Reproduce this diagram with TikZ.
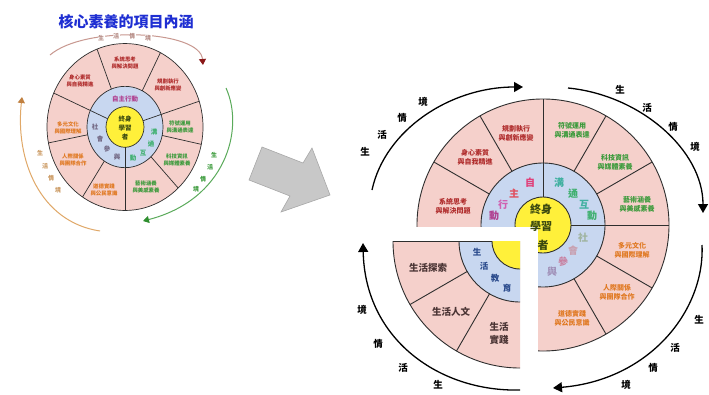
\documentclass[tikz,border=0pt]{standalone}
\usepackage{fontspec}
\newfontfamily\cjk{Noto Sans CJK TC}
\usetikzlibrary{arrows.meta}
\definecolor{pk}{HTML}{F5D0CB}
\definecolor{bl}{HTML}{C8D7F0}
\definecolor{yl}{HTML}{FFF03A}
\definecolor{ln}{HTML}{2E2E2E}
\definecolor{tred}{HTML}{B02C2C}
\definecolor{tgrn}{HTML}{3A9A3A}
\definecolor{torg}{HTML}{E07820}
\definecolor{tbrn}{HTML}{4A3434}
\definecolor{tnavy}{HTML}{2A4A8C}
\definecolor{ttl}{HTML}{1E2ED2}
\definecolor{cen}{HTML}{3C4A10}
\definecolor{ga}{HTML}{C8C8C8}
\definecolor{gb}{HTML}{A8A8A8}
\definecolor{arTop}{HTML}{C89890}
\definecolor{arTopH}{HTML}{8A1818}
\definecolor{arR}{HTML}{5AAA5A}
\definecolor{arRH}{HTML}{2E8E2E}
\definecolor{arL}{HTML}{E0A868}
\definecolor{arLH}{HTML}{C08040}
\definecolor{c1}{HTML}{E0407A}
\definecolor{c2}{HTML}{E05060}
\definecolor{c3}{HTML}{D060B0}
\definecolor{c4}{HTML}{B04090}
\definecolor{g1}{HTML}{40B0A0}
\definecolor{g2}{HTML}{40B070}
\definecolor{s1}{HTML}{A0B4A0}
\definecolor{s2}{HTML}{C8A0B0}
\definecolor{s3}{HTML}{C880A0}
\definecolor{s4}{HTML}{A090B8}
\tikzset{
 wt/.style={font=\cjk\bfseries\fontsize{7}{8.8}\selectfont, align=center, inner sep=0pt},
 lwt/.style={font=\cjk\bfseries\fontsize{9.5}{13}\selectfont, align=center, inner sep=0pt, text=tbrn},
 swt/.style={font=\cjk\bfseries\fontsize{5.4}{6.6}\selectfont, align=center, inner sep=0pt},
 ringtxt/.style={font=\cjk\bfseries\fontsize{10}{10}\selectfont, inner sep=0pt},
 sring/.style={font=\cjk\bfseries\fontsize{6.5}{6.5}\selectfont, inner sep=0pt},
 lab/.style={font=\cjk\bfseries\fontsize{9.5}{10}\selectfont, inner sep=0pt},
 slab/.style={font=\cjk\bfseries\fontsize{6}{6}\selectfont, inner sep=0.5pt},
 edge/.style={draw=ln, line width=0.9pt},
 bigarr/.style={line width=1.3pt, -{Triangle[length=9pt,width=10pt]}},
}
\begin{document}
\begin{tikzpicture}[x=1pt,y=-1pt]
\useasboundingbox[fill=white] (0,0) rectangle (709,394);

% ---------------- small diagram ----------------
\node[font=\cjk\bfseries\fontsize{15}{15}\selectfont, text=ttl] (title) at (126,22) {核心素養的項目內涵};
\begin{scope}[shift={(125,127)}, yscale=1.07]
 \fill[pk] (0,0) circle[radius=78];
 \fill[bl] (0,0) circle[radius=38];
 \fill[yl] (0,0) circle[radius=19];
 \draw[edge, line width=0.7pt] (0,0) circle[radius=78] (0,0) circle[radius=38] (0,0) circle[radius=19];
 \foreach \a in {-111,-63,12,47,123,169}
   \draw[edge, line width=0.7pt] (\a:38) -- (\a:78);
 \foreach \a in {-18,90,204}
   \draw[edge, line width=0.7pt] (\a:19) -- (\a:78);
\end{scope}
\node[swt, text=tred] (s1) at (125,63) {系統思考\\與解決問題};
\node[swt, text=tred] (s2) at (168,85) {規劃執行\\與創新應變};
\node[swt, text=tred] (s3) at (80,81) {身心素質\\與自我精進};
\node[swt, text=torg] (s4) at (68,128) {多元文化\\與國際理解};
\node[swt, text=torg] (s5) at (73,160) {人際關係\\與團隊合作};
\node[swt, text=torg] (s6) at (104,190) {道德實踐\\與公民意識};
\node[swt, text=tgrn] (s7) at (146,187) {藝術涵養\\與美感素養};
\node[swt, text=tgrn] (s8) at (177,160) {科技資訊\\與媒體素養};
\node[swt, text=tgrn] (s9) at (180,127) {符號運用\\與溝通表達};
\node[sring, text=c4] (sr1) at (125,99) {自主行動};
\node[sring, text=g2] (sr2a) at (154,132) {溝};
\node[sring, text=g2] (sr2b) at (151,144) {通};
\node[sring, text=g2] (sr2c) at (143,153) {互};
\node[sring, text=g2] (sr2d) at (133,158) {動};
\node[sring, text=s4!70!black] (sr3a) at (95,127) {社};
\node[sring, text=s4!70!black] (sr3b) at (100,139) {會};
\node[sring, text=s4!70!black] (sr3c) at (107,149) {參};
\node[sring, text=s4!70!black] (sr3d) at (117,157) {與};
\node[font=\cjk\bfseries\fontsize{6.5}{9}\selectfont, text=cen, align=center, inner sep=0pt] (sc) at (125,128) {終身\\學習\\者};

% small arrows
\coordinate (ta) at (50,55); \coordinate (tb) at (203,65);
\draw[arTop, line width=1pt, -{Triangle[length=6pt,width=7pt,color=arTopH]}] (ta) .. controls (85,25) and (200,30) .. (tb);
\foreach \t/\x/\y in {生/101/38,活/116/36,情/132/36,境/148/38}
  \node[slab, text=arTop!90!black, fill=white] at (\x,\y) {\t};
\coordinate (ra) at (226,88); \coordinate (rb) at (143,221);
\draw[arR, line width=1pt, -{Triangle[length=6pt,width=7pt,color=arRH]}] (ra) .. controls (245,130) and (225,200) .. (rb);
\foreach \t/\x/\y in {生/214/155,活/210/167,情/203/179,境/196/189}
  \node[slab, text=tgrn] at (\x,\y) {\t};
\coordinate (la) at (100,231); \coordinate (lb) at (22,97);
\draw[arL, line width=1pt, -{Triangle[length=6pt,width=7pt,color=arLH]}] (la) .. controls (40,222) and (15,160) .. (lb);
\foreach \t/\x/\y in {生/40/153,活/45/166,情/51/178,境/58/190}
  \node[slab, text=arL!90!black] at (\x,\y) {\t};

% ---------------- block arrow ----------------
\draw[fill=ga, draw=gb, line width=0.6pt] (262,147) -- (303,163) -- (312,148) -- (330,195) -- (281,212) -- (290,196) -- (249,180) -- cycle;

% ---------------- big diagram ----------------
\coordinate (C) at (543,225);
\fill[pk] (C) circle[radius=126];
\fill[bl] (C) circle[radius=62];
\fill[yl] (C) circle[radius=28];
\draw[edge] (C) circle[radius=126] (C) circle[radius=62] (C) circle[radius=28];
\foreach \a in {210,240,300,330,30,60}
  \draw[edge] (C) ++(\a:62) -- ++(\a:64);
\draw[edge] (C) ++(270:28) -- ++(270:98);
\draw[edge] (C) ++(0:28) -- ++(0:98);
\fill[white] (390,227) rectangle (538,375);

\coordinate (D) at (520,241);
\begin{scope}
 \clip (D) rectangle (380,385);
 \fill[pk] (D) circle[radius=127];
 \fill[bl] (D) circle[radius=61];
 \fill[yl] (D) circle[radius=28];
 \draw[edge] (D) circle[radius=127] (D) circle[radius=61] (D) circle[radius=28];
\end{scope}
\foreach \a in {120,150}
  \draw[edge] (D) ++(\a:61) -- ++(\a:66);
\draw[ln, line width=0.5pt] (D) ++(180:28) -- ++(180:99);

% wedge texts
\node[wt, text=tred] (b1) at (516,133) {規劃執行\\與創新應變};
\node[wt, text=tred] (b2) at (475,157) {身心素質\\與自我精進};
\node[wt, text=tred] (b3) at (453,206) {系統思考\\與解決問題};
\node[wt, text=tgrn] (b4) at (572,130) {符號運用\\與溝通表達};
\node[wt, text=tgrn] (b5) at (615,162) {科技資訊\\與媒體素養};
\node[wt, text=tgrn] (b6) at (637,204) {藝術涵養\\與美感素養};
\node[wt, text=torg] (b7) at (632,250) {多元文化\\與國際理解};
\node[wt, text=torg] (b8) at (617,292) {人際關係\\與團隊合作};
\node[wt, text=torg] (b9) at (572,318) {道德實踐\\與公民意識};
\node[lwt] (b10) at (428,268) {生活探索};
\node[lwt] (b11) at (451,312) {生活人文};
\node[lwt] (b12) at (499,333) {生活\\實踐};

% ring texts
\node[ringtxt, text=c1] at (530,183) {自};
\node[ringtxt, text=c2] at (514,194) {主};
\node[ringtxt, text=c3] at (503,205) {行};
\node[ringtxt, text=c4] at (494,216) {動};
\node[ringtxt, text=g1] at (559,183) {溝};
\node[ringtxt, text=g2] at (573,194) {通};
\node[ringtxt, text=g1] at (584,205) {互};
\node[ringtxt, text=g2] at (592,216) {動};
\node[ringtxt, text=s1] at (583,238) {社};
\node[ringtxt, text=s2] at (573,251) {會};
\node[ringtxt, text=s3] at (563,262) {參};
\node[ringtxt, text=s4] at (552,272) {與};
\node[ringtxt, text=tnavy, font=\cjk\bfseries\fontsize{8.5}{8.5}\selectfont] at (477,252) {生};
\node[ringtxt, text=tnavy, font=\cjk\bfseries\fontsize{8.5}{8.5}\selectfont] at (484,266) {活};
\node[ringtxt, text=tnavy, font=\cjk\bfseries\fontsize{8.5}{8.5}\selectfont] at (495,278) {教};
\node[ringtxt, text=tnavy, font=\cjk\bfseries\fontsize{8.5}{8.5}\selectfont] at (507,288) {育};
\node[font=\cjk\bfseries\fontsize{11}{11}\selectfont, text=cen, inner sep=0pt] (cA) at (541,209) {終身};
\node[font=\cjk\bfseries\fontsize{11}{11}\selectfont, text=cen, inner sep=0pt] (cB) at (541,226) {學習};
\node[font=\cjk\bfseries\fontsize{11}{11}\selectfont, text=cen, inner sep=0pt] (cC) at (543,245) {者};

% big arcs
\coordinate (A1) at (372,190); \coordinate (A2) at (523,87);
\draw[bigarr] (A1) .. controls (385,130) and (450,87) .. (A2);
\coordinate (B1) at (568,88); \coordinate (B2) at (703,213);
\draw[bigarr] (B1) .. controls (640,95) and (703,150) .. (B2);
\coordinate (E1) at (702,245); \coordinate (E2) at (553,388);
\draw[bigarr] (E1) .. controls (705,310) and (650,380) .. (E2);
\coordinate (F1) at (520,390); \coordinate (F2) at (363,243);
\draw[bigarr] (F1) .. controls (440,392) and (365,340) .. (F2);

\foreach \t/\x/\y in {生/365/152,活/382/135,情/402/118,境/423/102,
                      生/620/90,活/647/108,情/673/127,境/695/147,
                      生/699/320,活/675/348,情/653/368,境/626/385,
                      境/362/310,情/378/344,活/403/368,生/438/385}
  \node[lab] at (\x,\y) {\t};
\end{tikzpicture}
\end{document}
